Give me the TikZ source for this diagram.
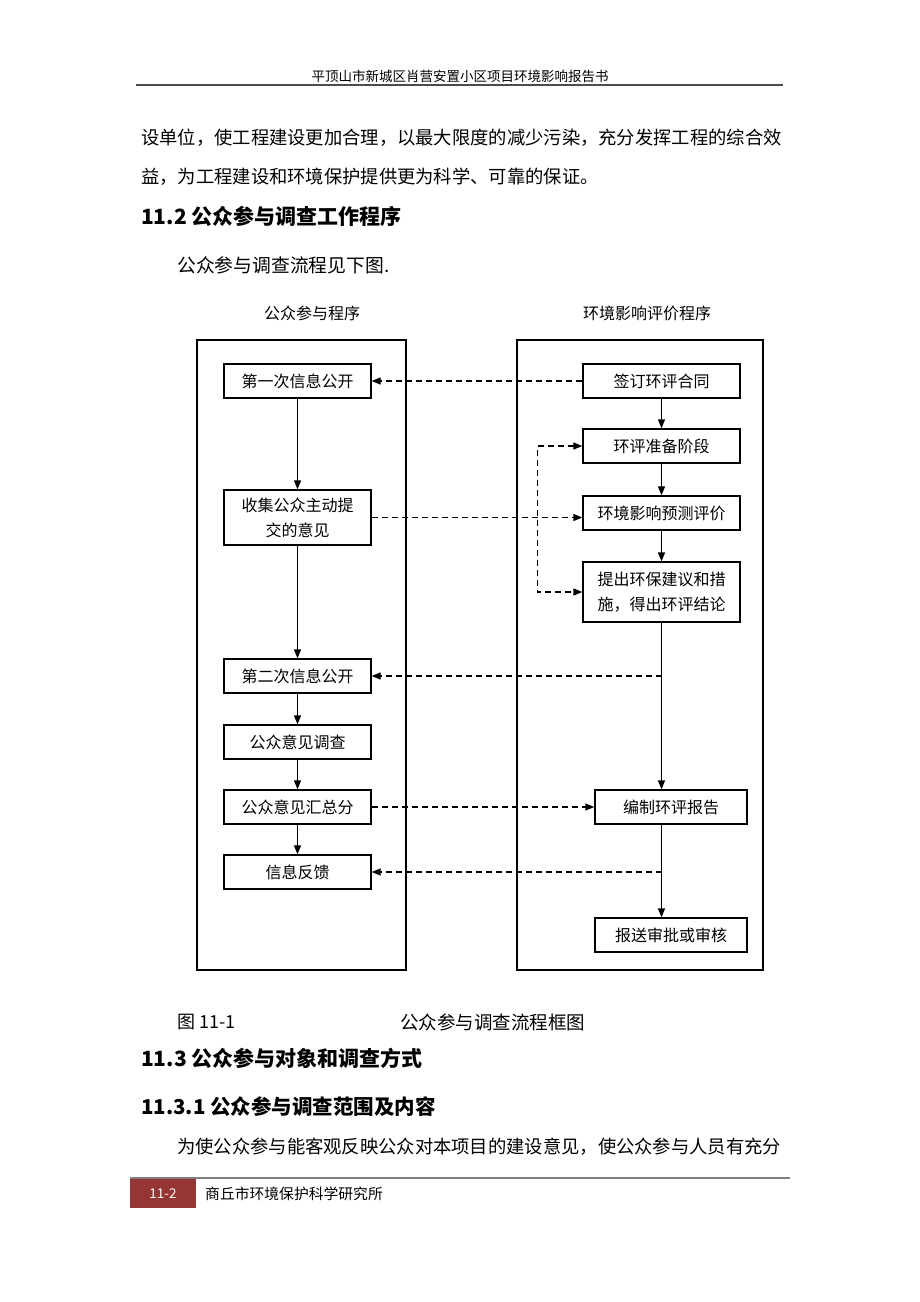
\documentclass[tikz,border=0pt]{standalone}
\usepackage{fontspec}
\newfontfamily\cjk{Noto Sans CJK SC}
\usetikzlibrary{arrows.meta}
\definecolor{footred}{RGB}{150,54,52}
\tikzset{
  stepbox/.style={draw, line width=1.3pt, minimum height=34pt, inner sep=0pt,
    font=\cjk\fontsize{16}{25}\selectfont, align=center},
  solidarrow/.style={-{Triangle[length=9pt,width=7pt]}, line width=1.3pt},
  dasharrow/.style={-{Triangle[length=9pt,width=7pt]}, line width=1.3pt, dash pattern=on 6pt off 4pt},
  bodytext/.style={anchor=west, inner sep=0pt, font=\cjk\fontsize{18.3}{22}\selectfont},
  headtext/.style={anchor=west, inner sep=0pt, font=\cjk\bfseries\fontsize{21}{24}\selectfont}
}
\begin{document}
\begin{tikzpicture}[x=1pt,y=-1pt]
  \useasboundingbox[fill=white] (0,0) rectangle (920,1302);

  % Page header
  \node[inner sep=0pt, font=\cjk\fontsize{13.5}{16}\selectfont] (pagehead) at (460,76) {平顶山市新城区肖营安置小区项目环境影响报告书};
  \draw[line width=2pt, gray!60!black] (136,85) -- (783,85);

  % Text before the figure
  \node[bodytext] (para1) at (141,138) {设单位，使工程建设更加合理，以最大限度的减少污染，充分发挥工程的综合效};
  \node[bodytext] (para2) at (141,177) {益，为工程建设和环境保护提供更为科学、可靠的保证。};
  \node[headtext] (sec112) at (141,216) {11.2 公众参与调查工作程序};
  \node[bodytext, font=\cjk\fontsize{18.8}{22}\selectfont] (para3) at (177,265) {公众参与调查流程见下图.};

  % Lanes
  \node[font=\cjk\fontsize{16}{19}\selectfont] (pubtitle) at (312,313) {公众参与程序};
  \node[font=\cjk\fontsize{16}{19}\selectfont] (eiatitle) at (647,313) {环境影响评价程序};
  \draw[line width=1.4pt] (197,340) rectangle (406,970);
  \draw[line width=1.4pt] (517,340) rectangle (763,970);

  % Public side
  \node[stepbox, minimum width=147pt] (first) at (297.5,381) {第一次信息公开};
  \node[stepbox, minimum width=147pt, minimum height=55pt] (collect) at (297.5,517.5) {收集公众主动提\\交的意见};
  \node[stepbox, minimum width=147pt] (second) at (297.5,676) {第二次信息公开};
  \node[stepbox, minimum width=147pt] (survey) at (297.5,742) {公众意见调查};
  \node[stepbox, minimum width=147pt] (summary) at (297.5,807) {公众意见汇总分};
  \node[stepbox, minimum width=147pt] (feedback) at (297.5,872) {信息反馈};

  % EIA side
  \node[stepbox, minimum width=157pt] (contract) at (661.5,381) {签订环评合同};
  \node[stepbox, minimum width=157pt] (prepare) at (661.5,446) {环评准备阶段};
  \node[stepbox, minimum width=157pt] (predict) at (661.5,513) {环境影响预测评价};
  \node[stepbox, minimum width=157pt, minimum height=60pt] (measures) at (661.5,592) {提出环保建议和措\\施，得出环评结论};
  \node[stepbox, minimum width=152pt] (report) at (671,807) {编制环评报告};
  \node[stepbox, minimum width=152pt] (submit) at (671,935) {报送审批或审核};

  % Solid flow
  \draw[solidarrow] (first) -- (collect);
  \draw[solidarrow] (collect) -- (second);
  \draw[solidarrow] (second) -- (survey);
  \draw[solidarrow] (survey) -- (summary);
  \draw[solidarrow] (summary) -- (feedback);
  \draw[solidarrow] (contract) -- (prepare);
  \draw[solidarrow] (prepare) -- (predict);
  \draw[solidarrow] (predict) -- (measures);
  \draw[solidarrow] (measures.south) -- (measures.south |- report.north);
  \draw[solidarrow] (measures.south |- report.south) -- (measures.south |- submit.north);

  % Dashed links
  \draw[dasharrow] (contract.west) -- (first.east);
  \draw[dasharrow] (collect.east) -- (collect.east -| predict.west);
  \draw[dasharrow, {Triangle[length=9pt,width=7pt]}-{Triangle[length=9pt,width=7pt]}] (prepare.west) -- ++(-45,0) |- (measures.west);
  \draw[dasharrow] (measures.south |- second.east) -- (second.east);
  \draw[dasharrow] (summary.east) -- (report.west);
  \draw[dasharrow] (measures.south |- feedback.east) -- (feedback.east);

  % Caption
  \node[anchor=west, inner sep=0pt, font=\cjk\fontsize{18}{21}\selectfont] (figno) at (177,1022) {图 11-1};
  \node[anchor=west, inner sep=0pt, font=\cjk\fontsize{18.5}{21}\selectfont] (figname) at (400,1022) {公众参与调查流程框图};

  % Text after the figure
  \node[headtext] (sec113) at (141,1058) {11.3 公众参与对象和调查方式};
  \node[headtext, font=\cjk\bfseries\fontsize{20.5}{24}\selectfont] (sec1131) at (141,1107) {11.3.1 公众参与调查范围及内容};
  \node[bodytext, font=\cjk\fontsize{18.3}{22}\selectfont] (para4) at (177,1147) {为使公众参与能客观反映公众对本项目的建设意见，使公众参与人员有充分};

  % Page footer
  \draw[line width=1.6pt, gray] (130,1178) -- (790,1178);
  \fill[footred] (130,1179) rectangle (196,1208);
  \node[text=white, inner sep=0pt, font=\cjk\fontsize{13.5}{15}\selectfont] (pageno) at (163,1194) {11-2};
  \node[anchor=west, inner sep=0pt, font=\cjk\fontsize{14.8}{17}\selectfont] (institute) at (205,1194) {商丘市环境保护科学研究所};
\end{tikzpicture}
\end{document}
